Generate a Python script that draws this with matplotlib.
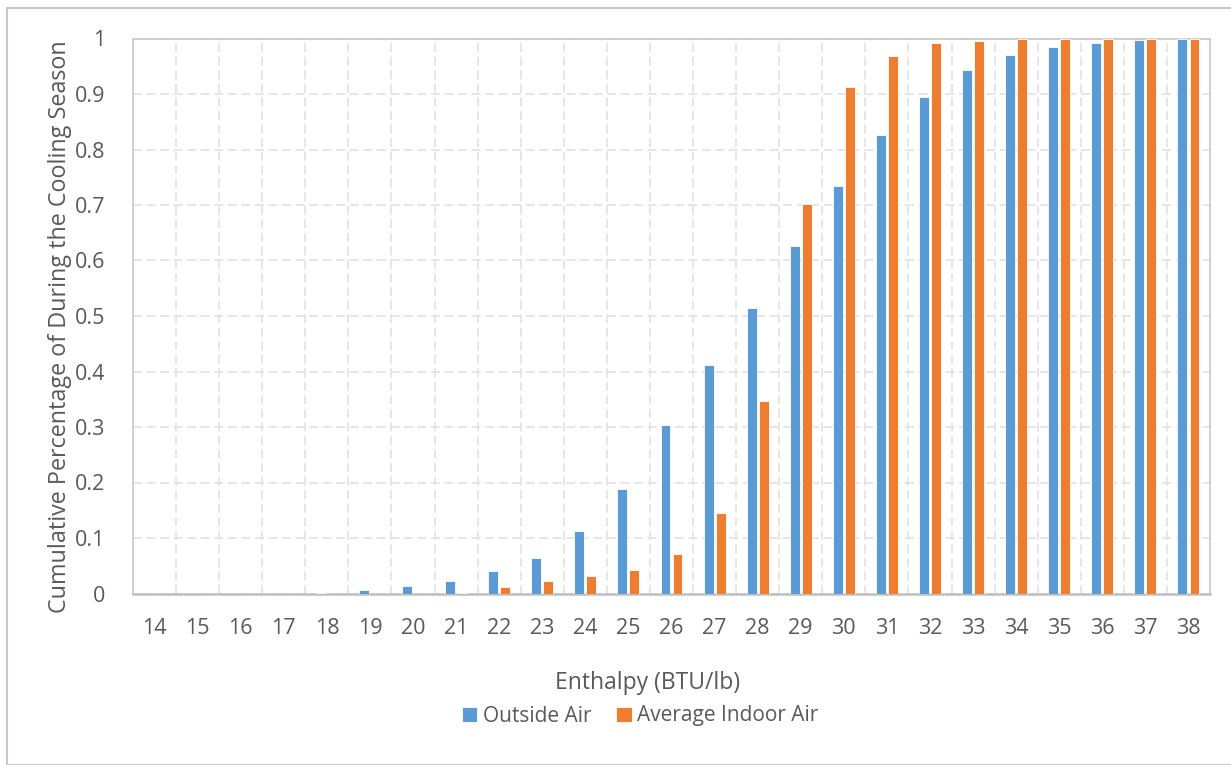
import numpy as np
import matplotlib.pyplot as plt
from matplotlib.patches import Rectangle

enthalpy = list(range(14, 39))
outside_air = [0, 0, 0, 0, 0.001, 0.0066, 0.013, 0.023, 0.040, 0.064, 0.112, 0.188,
               0.303, 0.412, 0.514, 0.626, 0.735, 0.827, 0.894, 0.943, 0.970, 0.985,
               0.991, 0.997, 1.0]
indoor_air = [0, 0, 0, 0, 0, 0, 0, 0.001, 0.0126, 0.023, 0.031, 0.042,
              0.071, 0.145, 0.346, 0.702, 0.912, 0.969, 0.991, 0.995, 1.0, 1.0,
              1.0, 1.0, 1.0]

blue = '#5B9BD5'
orange = '#ED7D31'
text_gray = '#595959'
plt.rcParams['font.family'] = ['Open Sans', 'DejaVu Sans']

fig = plt.figure(figsize=(12.31, 7.65), dpi=100)
ax = fig.add_axes([133/1231, 1 - 593.5/765, (1210-133)/1231, (593.5-38.5)/765])

x = np.arange(len(enthalpy))
w = 0.23
ax.bar(x - 0.14, outside_air, w, color=blue, edgecolor='white', linewidth=0.6,
       label='Outside Air', zorder=3)
ax.bar(x + 0.14, indoor_air, w, color=orange, edgecolor='white', linewidth=0.6,
       label='Average Indoor Air', zorder=3)

ax.set_xlim(-0.5, len(enthalpy) - 0.5)
ax.set_ylim(0, 1)
ax.set_yticks(np.arange(0, 1.01, 0.1))
ax.set_yticklabels(['0'] + ['%.1f' % v for v in np.arange(0.1, 0.95, 0.1)] + ['1'])
ax.set_xticks(x)
ax.set_xticklabels([str(e) for e in enthalpy])
ax.set_xticks(np.arange(0.5, len(enthalpy) - 1, 1), minor=True)
ax.tick_params(which='both', length=0, colors=text_gray, labelsize=15.5)
ax.tick_params(axis='x', pad=18)
ax.tick_params(axis='y', pad=20)

ax.yaxis.grid(True, which='major', color='#E4E4E4', linestyle=(0, (5, 2.5)), lw=1.3, zorder=0)
ax.xaxis.grid(True, which='minor', color='#E4E4E4', linestyle=(0, (5, 2.5)), lw=1.3, zorder=0)

for s in ax.spines.values():
    s.set_color('#C8C8C8')
    s.set_linewidth(1.2)
ax.spines['bottom'].set_color('#BFBFBF')
ax.spines['bottom'].set_linewidth(1.8)

fig.text(648/1231, 1 - 683/765, 'Enthalpy (BTU/lb)', fontsize=16.5, color=text_gray,
         ha='center', va='center')
fig.text(60/1231, 1 - 327/765, 'Cumulative Percentage of During the Cooling Season',
         fontsize=16.8, color=text_gray, ha='center', va='center', rotation=90)

ax.legend(loc='center', bbox_to_anchor=(640/1231, 1 - 716/765), bbox_transform=fig.transFigure,
          ncol=2, frameon=False,
          fontsize=15, labelcolor=text_gray, handlelength=0.75, handleheight=0.75,
          handletextpad=0.25, columnspacing=1.2)

fig.patches.append(Rectangle((7/1231, 0), 1, 1 - 8/765, transform=fig.transFigure,
                             fill=False, edgecolor='#C8C8C8', lw=1.5))

fig.savefig('out.png', dpi=100)
